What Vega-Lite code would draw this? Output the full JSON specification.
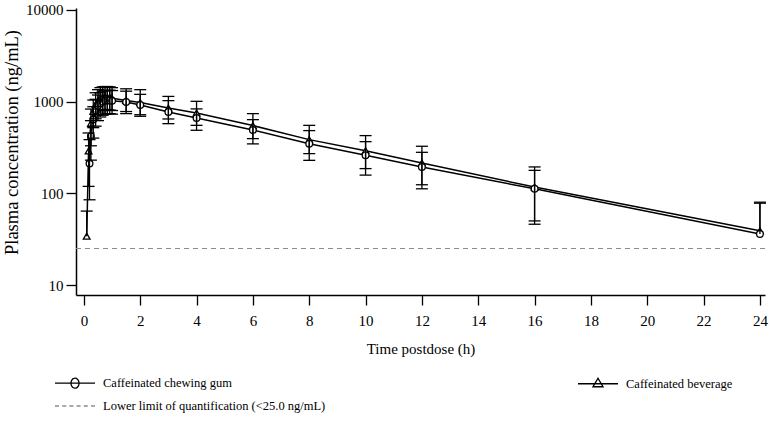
{
  "$schema": "https://vega.github.io/schema/vega-lite/v6.json",
  "autosize": {"type": "none"},
  "width": 689,
  "height": 287,
  "padding": {"left": 76, "top": 8, "right": 6, "bottom": 128},
  "background": "white",
  "config": {
    "view": {"stroke": null},
    "font": "Liberation Serif",
    "axis": {
      "grid": false,
      "domainColor": "black",
      "domainWidth": 1.5,
      "tickColor": "black",
      "tickWidth": 1.3,
      "tickSize": 10,
      "labelFont": "Liberation Serif",
      "labelFontSize": 15,
      "labelColor": "black",
      "titleFont": "Liberation Serif",
      "titleFontWeight": "normal",
      "titleColor": "black"
    }
  },
  "datasets": {
    "pk": [
      {"group": "Caffeinated beverage", "t": 0.1, "mean": 34, "lo": null, "hi": 64},
      {"group": "Caffeinated beverage", "t": 0.167, "mean": 290, "lo": 119, "hi": 455},
      {"group": "Caffeinated beverage", "t": 0.25, "mean": 580, "lo": 330, "hi": 830},
      {"group": "Caffeinated beverage", "t": 0.333, "mean": 780, "lo": 520, "hi": 1040},
      {"group": "Caffeinated beverage", "t": 0.417, "mean": 930, "lo": 650, "hi": 1250},
      {"group": "Caffeinated beverage", "t": 0.5, "mean": 1020, "lo": 720, "hi": 1350},
      {"group": "Caffeinated beverage", "t": 0.583, "mean": 1080, "lo": 770, "hi": 1420},
      {"group": "Caffeinated beverage", "t": 0.667, "mean": 1110, "lo": 800, "hi": 1450},
      {"group": "Caffeinated beverage", "t": 0.75, "mean": 1120, "lo": 820, "hi": 1460},
      {"group": "Caffeinated beverage", "t": 0.833, "mean": 1120, "lo": 820, "hi": 1460},
      {"group": "Caffeinated beverage", "t": 0.917, "mean": 1110, "lo": 810, "hi": 1450},
      {"group": "Caffeinated beverage", "t": 1.0, "mean": 1090, "lo": 800, "hi": 1420},
      {"group": "Caffeinated beverage", "t": 1.5, "mean": 1030, "lo": 780, "hi": 1380},
      {"group": "Caffeinated beverage", "t": 2, "mean": 980, "lo": 720, "hi": 1350},
      {"group": "Caffeinated beverage", "t": 3, "mean": 850, "lo": 647, "hi": 1140},
      {"group": "Caffeinated beverage", "t": 4, "mean": 753, "lo": 551, "hi": 1008},
      {"group": "Caffeinated beverage", "t": 6, "mean": 548, "lo": 395, "hi": 740},
      {"group": "Caffeinated beverage", "t": 8, "mean": 385, "lo": 271, "hi": 551},
      {"group": "Caffeinated beverage", "t": 10, "mean": 292, "lo": 186, "hi": 426},
      {"group": "Caffeinated beverage", "t": 12, "mean": 214, "lo": 124, "hi": 326},
      {"group": "Caffeinated beverage", "t": 16, "mean": 117, "lo": 50, "hi": 194},
      {"group": "Caffeinated beverage", "t": 24, "mean": 39, "lo": null, "hi": 80},
      {"group": "Caffeinated chewing gum", "t": 0.2, "mean": 211, "lo": 85, "hi": 385},
      {"group": "Caffeinated chewing gum", "t": 0.25, "mean": 420, "lo": 230, "hi": 620},
      {"group": "Caffeinated chewing gum", "t": 0.333, "mean": 640, "lo": 400, "hi": 880},
      {"group": "Caffeinated chewing gum", "t": 0.417, "mean": 800, "lo": 540, "hi": 1060},
      {"group": "Caffeinated chewing gum", "t": 0.5, "mean": 900, "lo": 620, "hi": 1180},
      {"group": "Caffeinated chewing gum", "t": 0.583, "mean": 960, "lo": 680, "hi": 1250},
      {"group": "Caffeinated chewing gum", "t": 0.667, "mean": 1000, "lo": 710, "hi": 1300},
      {"group": "Caffeinated chewing gum", "t": 0.75, "mean": 1020, "lo": 730, "hi": 1320},
      {"group": "Caffeinated chewing gum", "t": 0.833, "mean": 1030, "lo": 740, "hi": 1330},
      {"group": "Caffeinated chewing gum", "t": 0.917, "mean": 1030, "lo": 740, "hi": 1330},
      {"group": "Caffeinated chewing gum", "t": 1.0, "mean": 1020, "lo": 730, "hi": 1320},
      {"group": "Caffeinated chewing gum", "t": 1.5, "mean": 990, "lo": 740, "hi": 1300},
      {"group": "Caffeinated chewing gum", "t": 2, "mean": 920, "lo": 692, "hi": 1200},
      {"group": "Caffeinated chewing gum", "t": 3, "mean": 770, "lo": 575, "hi": 1025},
      {"group": "Caffeinated chewing gum", "t": 4, "mean": 664, "lo": 487, "hi": 833},
      {"group": "Caffeinated chewing gum", "t": 6, "mean": 491, "lo": 346, "hi": 636},
      {"group": "Caffeinated chewing gum", "t": 8, "mean": 348, "lo": 229, "hi": 483},
      {"group": "Caffeinated chewing gum", "t": 10, "mean": 260, "lo": 158, "hi": 366},
      {"group": "Caffeinated chewing gum", "t": 12, "mean": 194, "lo": 112, "hi": 280},
      {"group": "Caffeinated chewing gum", "t": 16, "mean": 112, "lo": 46, "hi": 178},
      {"group": "Caffeinated chewing gum", "t": 24, "mean": 36, "lo": null, "hi": 78}
    ],
    "lloq": [
      {"series": "Lower limit of quantification (<25.0 ng/mL)", "value": 25}
    ]
  },
  "encoding": {
    "x": {
      "field": "t",
      "type": "quantitative",
      "scale": {"domain": [-0.28, 24.18], "nice": false, "zero": false},
      "axis": {
        "values": [0, 2, 4, 6, 8, 10, 12, 14, 16, 18, 20, 22, 24],
        "format": "d",
        "title": "Time postdose (h)",
        "titleFontSize": 15,
        "labelPadding": 8,
        "titlePadding": 13
      }
    }
  },
  "layer": [
    {
      "data": {"name": "lloq"},
      "mark": {"type": "rule", "strokeDash": [5, 4], "strokeWidth": 1.2},
      "encoding": {
        "x": null,
        "y": {"field": "value", "type": "quantitative"},
        "stroke": {"field": "series", "type": "nominal"}
      }
    },
    {
      "data": {"name": "pk"},
      "mark": {"type": "line", "strokeWidth": 1.5},
      "encoding": {
        "y": {
          "field": "mean",
          "type": "quantitative",
          "scale": {"type": "log", "domain": [7.78, 10500], "nice": false},
          "axis": {
            "values": [10, 100, 1000, 10000],
            "format": "d",
            "title": "Plasma concentration (ng/mL)",
            "titleFontSize": 18.5,
            "titleY": 134,
            "labelPadding": 3,
            "titlePadding": 4
          }
        },
        "stroke": {
          "field": "group",
          "type": "nominal",
          "scale": {
            "domain": ["Caffeinated chewing gum", "Lower limit of quantification (<25.0 ng/mL)", "Caffeinated beverage"],
            "range": ["black", "#8c8c8c", "black"]
          },
          "legend": {
            "title": null,
            "orient": "none",
            "legendX": -12,
            "legendY": 364,
            "columns": 2,
            "columnPadding": 249,
            "rowPadding": 4,
            "symbolSize": 400,
            "symbolStrokeWidth": 1.3,
            "labelFont": "Liberation Serif",
            "labelFontSize": 12.5,
            "labelColor": "black",
            "labelOffset": 17,
            "labelLimit": 400,
            "encode": {
              "symbols": {
                "update": {
                  "shape": {"signal": "datum.value === 'Caffeinated chewing gum' ? 'M-2,0H2M0.4,0A0.4,0.5,0,1,1,-0.4,0A0.4,0.5,0,1,1,0.4,0' : datum.value === 'Caffeinated beverage' ? 'M-2,0H2M-0.5,0.3L0,-0.55L0.5,0.3Z' : 'M-2,0H-1.6M-1.28,0H-0.88M-0.56,0H-0.16M0.16,0H0.56M0.88,0H1.28M1.6,0H2'"},
                  "fill": {"value": "transparent"},
                  "strokeDash": {"value": [1, 0]},
                  "strokeWidth": {"value": 1.3},
                  "opacity": {"value": 1}
                }
              }
            }
          }
        }
      }
    },
    {
      "data": {"name": "pk"},
      "mark": {"type": "point", "filled": true, "fill": "white", "stroke": "black", "strokeWidth": 1.3, "size": 45, "opacity": 1},
      "encoding": {
        "y": {"field": "mean", "type": "quantitative"},
        "shape": {
          "field": "group",
          "type": "nominal",
          "scale": {"domain": ["Caffeinated chewing gum", "Caffeinated beverage"], "range": ["circle", "triangle-up"]},
          "legend": null
        }
      }
    },
    {
      "data": {"name": "pk"},
      "mark": {"type": "rule", "color": "black", "strokeWidth": 1.3},
      "encoding": {
        "y": {"field": "lo", "type": "quantitative"},
        "y2": {"field": "mean"}
      }
    },
    {
      "data": {"name": "pk"},
      "mark": {"type": "rule", "color": "black", "strokeWidth": 1.3},
      "encoding": {
        "y": {"field": "mean", "type": "quantitative"},
        "y2": {"field": "hi"}
      }
    },
    {
      "data": {"name": "pk"},
      "mark": {"type": "point", "shape": "stroke", "color": "black", "strokeWidth": 1.3, "size": 144, "opacity": 1},
      "encoding": {
        "y": {"field": "hi", "type": "quantitative"}
      }
    },
    {
      "data": {"name": "pk"},
      "mark": {"type": "point", "shape": "stroke", "color": "black", "strokeWidth": 1.3, "size": 144, "opacity": 1},
      "encoding": {
        "y": {"field": "lo", "type": "quantitative"}
      }
    }
  ]
}
